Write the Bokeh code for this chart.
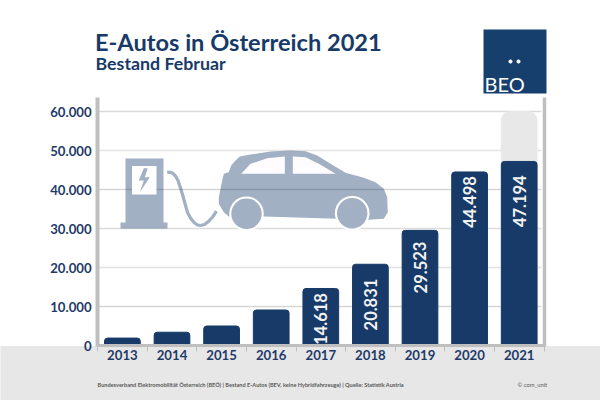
# -*- coding: utf-8 -*-
from bokeh.core.properties import value
from bokeh.embed import file_html
from bokeh.models import FixedTicker, LinearAxis, Range1d
from bokeh.plotting import figure
from bokeh.resources import INLINE

# data
years = ["2013", "2014", "2015", "2016", "2017", "2018", "2019", "2020", "2021"]
bestand = [1900, 3400, 5000, 9100, 14618, 20831, 29523, 44498, 47194]
bar_labels = ["", "", "", "", "14.618", "20.831", "29.523", "44.498", "47.194"]
label_mitte = [0, 0, 0, 0, 6800, 10500, 20000, 36800, 37000]
y_ticks = [0, 10000, 20000, 30000, 40000, 50000, 60000]
y_tick_labels = ["0", "10.000", "20.000", "30.000", "40.000", "50.000", "60.000"]
ziel_2021 = 60000

NAVY = "#173a68"
AXIS_GREY = "#bfbfbf"
FONT = value("Lato")

positions = list(range(len(years)))

# primary ranges: the frame fills the whole figure, axes sit inside it
p = figure(width=600, height=400, output_backend="svg", toolbar_location=None,
           x_range=Range1d((0 - 121.9) / 49.6, (600 - 121.9) / 49.6),
           y_range=Range1d((345 - 400) / 0.0039, (345 - 0) / 0.0039),
           min_border=0, x_axis_location=None, y_axis_location=None)
p.outline_line_color = None
p.grid.visible = False
p.background_fill_color = "white"

# second pair of ranges in page pixels, for the decoration
p.extra_x_ranges["px"] = Range1d(0, 600)
p.extra_y_ranges["px"] = Range1d(400, 0)
px = dict(x_range_name="px", y_range_name="px")

# footer band
p.quad(left=0, right=600, top=346, bottom=400, color="#e7e7e7", level="underlay", **px)

# gridlines
for t, c in zip(y_ticks[1:], ["#d6d6d6", "#e2e2e2", "#dcdcdc", "#d6d6d6", "#e4e4e4", "#d9d9d9"]):
    p.line([-0.5, 8.45], [t, t], line_color=c, line_width=1.3)

# right hand bar
p.line([544, 544], [97, 346], line_color=AXIS_GREY, line_width=3.5, **px)

# charger
p.patch([125, 163, 163, 167, 167, 120, 120, 125], [158, 158, 222, 222, 228, 228, 222, 222],
        fill_color=NAVY, fill_alpha=0.4, line_color=None, **px)
p.patch([131.5, 156, 156, 131.5], [165.5, 165.5, 194, 194], fill_color="white", line_color=None, **px)
p.patch([143.3, 138.3, 143.3, 139.3, 149.3, 144.3, 147.3], [167.7, 180, 180, 191.7, 176.7, 176.7, 167.7],
        fill_color=NAVY, fill_alpha=0.4, line_color=None, **px)
p.line([166.7, 169.5, 172, 175, 177.5, 180, 182, 184.5, 187, 190, 193.5, 197, 200, 204, 208.5, 212.5, 216],
       [171.7, 171.8, 172.6, 175.5, 180, 187.5, 194, 203, 212, 217.5, 222, 224.5, 225, 224, 220.5, 216, 210.7],
       line_color=NAVY, line_alpha=0.4, line_width=3.2, **px)

# car
p.patch([239.3, 250, 270, 290, 305, 316.7, 330, 345, 363.3, 375, 383.3, 386.7, 387.3, 383.3, 368.3,
         263.3, 228.3, 223.3, 218.3, 218.3, 221.7, 223.3, 228.3, 230.7, 235],
        [156, 154, 151, 150, 150.7, 155, 163.3, 172.3, 177.3, 181.7, 188.3, 196.7, 211.7, 218.3, 219.3,
         216, 216, 211.7, 203.3, 196.7, 180, 173.3, 171.7, 165, 160],
        fill_color=NAVY, fill_alpha=0.4, line_color=None, **px)
p.patch([240.7, 250, 266.7, 284.3, 284.3], [173.3, 163.3, 157.7, 156, 173.3],
        fill_color="#fffcff", line_color=None, **px)
p.patch([292.3, 305, 318.3, 335, 292.3], [156, 156.7, 163.3, 173.3, 173.3],
        fill_color="#fffcff", line_color=None, **px)
p.circle([246, 351.7], [213.3, 212.7], radius=17.3, fill_color="white", line_color=None,
         radius_units="screen", **px)
p.circle([246, 351.7], [213.3, 212.7], radius=15.2, fill_color=NAVY, fill_alpha=0.4, line_color=None,
         radius_units="screen", **px)

# bars
p.vbar(x=[positions[-1]], top=[ziel_2021], width=0.72, color="#e8e8e8", border_radius=(9, 9, 0, 0))
p.vbar(x=positions, top=bestand, width=0.72, color=NAVY, border_radius=(3, 3, 0, 0))
p.text(x=positions, y=label_mitte, text=bar_labels, angle=1.5708, text_align="center", text_baseline="middle",
       text_color="#f2f2f2", text_font=FONT, text_font_size="16.5px", text_font_style="bold")

# axes
yaxis = LinearAxis(fixed_location=-0.5, bounds=(-200, 63600), ticker=FixedTicker(ticks=y_ticks),
                   major_label_overrides=dict(zip(y_ticks, y_tick_labels)))
yaxis.axis_line_color = AXIS_GREY
yaxis.axis_line_width = 4
yaxis.major_tick_line_color = None
yaxis.minor_tick_line_color = None
yaxis.major_label_standoff = 0
yaxis.major_label_text_color = "#1f3a68"
yaxis.major_label_text_font = "Lato"
yaxis.major_label_text_font_size = "13.2px"
yaxis.major_label_text_font_style = "bold"
p.add_layout(yaxis, "left")

xaxis = LinearAxis(fixed_location=0, bounds=(-0.5, 8.5),
                   ticker=FixedTicker(ticks=positions, minor_ticks=[i - 0.5 for i in range(len(years) + 1)]),
                   major_label_overrides=dict(zip(positions, years)))
xaxis.axis_line_color = AXIS_GREY
xaxis.axis_line_width = 3
xaxis.major_tick_line_color = None
xaxis.minor_tick_line_color = AXIS_GREY
xaxis.minor_tick_out = 6
xaxis.minor_tick_in = 0
xaxis.major_label_standoff = -2
xaxis.major_label_text_color = "#1f3a68"
xaxis.major_label_text_font = "Lato"
xaxis.major_label_text_font_size = "13.2px"
xaxis.major_label_text_font_style = "bold"
p.add_layout(xaxis, "below")

# titles
p.text([94.5], [41.5], text=["E-Autos in Österreich 2021"], text_color=NAVY, text_font=FONT,
       text_font_size="23.6px", text_font_style="bold", text_baseline="middle", **px)
p.text([95], [62], text=["Bestand Februar"], text_color=NAVY, text_font=FONT,
       text_font_size="17.8px", text_font_style="bold", text_baseline="middle", **px)

# logo
p.patch([483, 546, 546, 483], [29, 29, 93, 93], fill_color="#173f6d", line_color=None, **px)
p.scatter([510, 518], [61, 61], size=3.2, color="white", **px)
p.text([484], [83], text=["BEO"], text_color="white", text_font=FONT, text_font_size="20px",
       text_baseline="middle", **px)

# footer
p.text([97], [383.5], text=["Bundesverband Elektromobilität Österreich (BEÖ) | Bestand E-Autos (BEV, keine Hybridfahrzeuge) | Quelle: Statistik Austria"],
       text_color="#595959", text_font=FONT, text_font_size="5.6px", text_font_style="bold",
       text_baseline="middle", **px)
p.text([517], [384], text=["© com_unit"], text_color="#595959", text_font=FONT, text_font_size="5.8px",
       text_baseline="middle", **px)

open("out.html", "w").write(file_html(p, INLINE))
